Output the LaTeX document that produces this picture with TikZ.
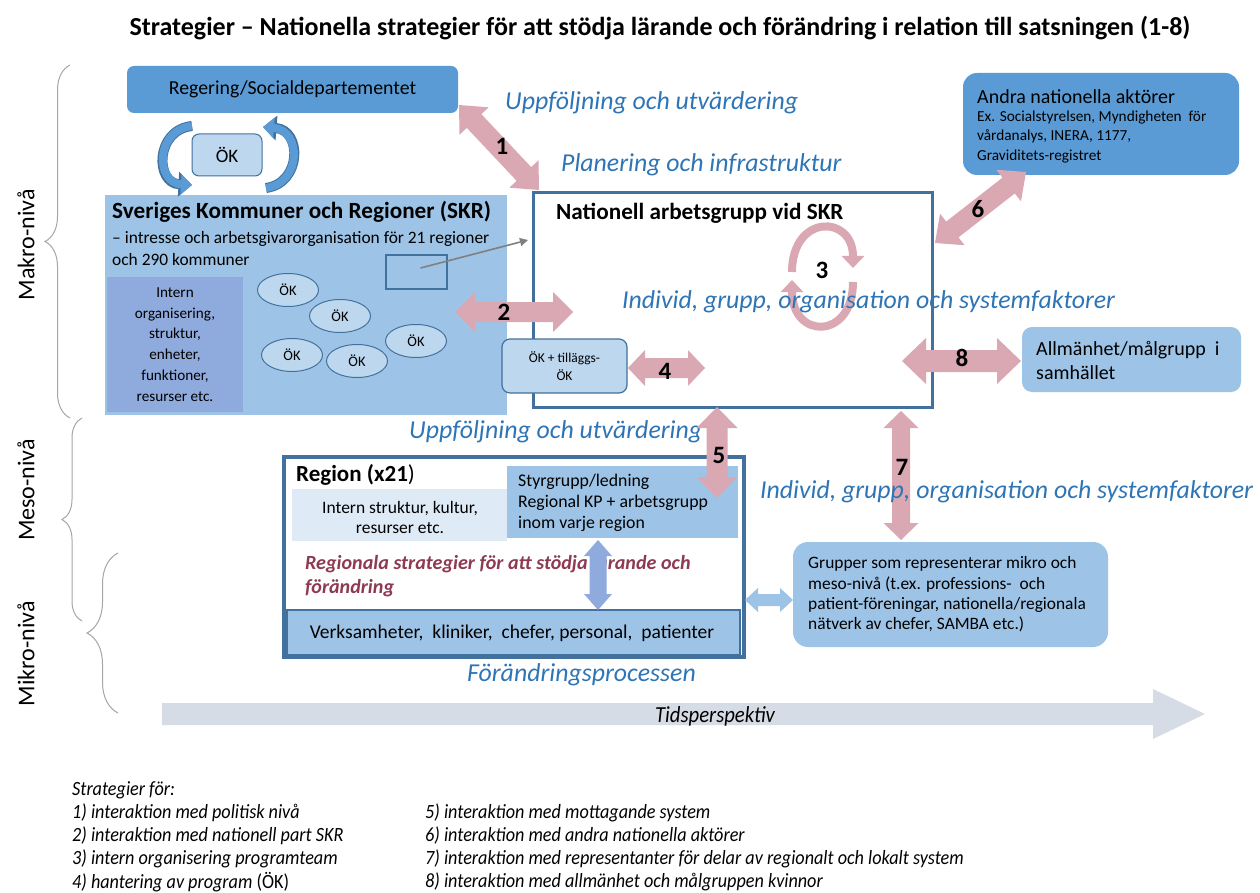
\documentclass[tikz,border=0pt]{standalone}
\usepackage{fontspec}
\setmainfont{Carlito}
\newfontfamily\condfont[FakeStretch=0.9]{Carlito}
\usetikzlibrary{calc,arrows.meta,decorations.pathreplacing,shapes.geometric}
\definecolor{midblue}{HTML}{5B9BD5}
\definecolor{skrblue}{HTML}{9DC3E6}
\definecolor{innerblue}{HTML}{8FAADC}
\definecolor{paleblue}{HTML}{BDD7EE}
\definecolor{edgeblue}{HTML}{41719C}
\definecolor{pinkarr}{RGB}{217,168,179}
\definecolor{labblue}{HTML}{2E75B6}
\definecolor{verylight}{HTML}{DEEBF7}
\definecolor{regred}{RGB}{142,58,82}
\definecolor{timegray}{HTML}{D6DCE5}
\definecolor{bracegray}{HTML}{A6A6A6}
\newcommand\fs[2]{\fontsize{#1}{#2}\selectfont}
\newcommand{\fatarrow}[6]{%
 \path ($(#1)!#5!(#2)$) coordinate (faA) ($(#2)!#5!(#1)$) coordinate (faB);
 \fill[#6] (#1) -- ($(faA)!#4!90:(#2)$) -- ($(faA)!#3!90:(#2)$) -- ($(faB)!#3!-90:(#1)$) -- ($(faB)!#4!-90:(#1)$) -- (#2) -- ($(faB)!#4!90:(#1)$) -- ($(faB)!#3!90:(#1)$) -- ($(faA)!#3!-90:(#2)$) -- ($(faA)!#4!-90:(#2)$) -- cycle;}
\tikzset{
  boxn/.style={anchor=north west, inner sep=0pt, outer sep=0pt},
  blabel/.style={font=\itshape\fs{25.8}{30}, text=labblue, anchor=west, inner sep=0pt},
  num/.style={font=\bfseries\fs{25}{28}, inner sep=0pt},
  okell/.style={ellipse, draw=edgeblue, line width=1pt, fill=paleblue, minimum width=61pt, minimum height=33pt, inner sep=0pt, font=\fs{14.5}{16}},
  cycblue/.style={line width=8pt, midblue, -{Triangle[width=20pt,length=11pt]},
     preaction={draw=edgeblue, line width=10pt, -{Triangle[width=24pt,length=13.5pt]}}},
  cycpink/.style={line width=8pt, pinkarr, -{Triangle[width=22pt,length=12pt]}},
  lvl/.style={rotate=90, font=\fs{24}{26}, inner sep=0pt},
  brc/.style={draw=bracegray, line width=1pt, decorate},
  leg/.style={anchor=west, inner sep=0pt, font=\condfont\itshape\fs{20.2}{23}},
}
\begin{document}
\begin{tikzpicture}[x=1pt,y=-1pt]
\useasboundingbox (0,0) rectangle (1260,893);
\fill[white] (0,0) rectangle (1260,893);

% title
\node[font=\bfseries\fs{26}{30}] (title) at (660,28) {Strategier – Nationella strategier för att stödja lärande och förändring i relation till satsningen (1-8)};

% level braces
\draw[brc, decoration={brace, amplitude=25pt}] (70,418) -- (70,65);
\draw[brc, decoration={brace, amplitude=20pt}] (82,621) -- (82,418);
\draw[brc, decoration={brace, amplitude=31pt}] (118,713) -- (118,553);
\node[lvl] (makro) at (26,245) {Makro-nivå};
\node[lvl] (meso) at (26,490) {Meso-nivå};
\node[lvl] (mikro) at (26,654) {Mikro-nivå};

% Regering
\node[boxn, fill=midblue, rounded corners=7pt, minimum width=331pt, minimum height=47pt] (reg) at (127,66) {};
\node[font=\fs{19.8}{22}] (regt) at (reg.center) {Regering/Socialdepartementet};

% Andra nationella aktörer
\node[boxn, fill=midblue, rounded corners=14pt, minimum width=276pt, minimum height=102pt] (andra) at (963,73) {};
\node[anchor=west, inner sep=0pt, font=\fs{20}{22}] (andrat) at (977,97) {Andra nationella aktörer};
\node[anchor=west, inner sep=0pt, align=left, font=\fs{15.3}{19.5}] (andras) at (977,137) {Ex. Socialstyrelsen, Myndigheten\ \ för\\vårdanalys, INERA, 1177,\\Graviditets-registret};

% SKR
\node[boxn, fill=skrblue, minimum width=402pt, minimum height=220pt] (skr) at (105,195) {};
\node[boxn, fill=innerblue, minimum width=136pt, minimum height=135pt] (skrin) at (107,277) {};
\node[align=center, font=\fs{15.2}{20.8}] (skrint) at (skrin.center) {Intern\\organisering,\\struktur,\\enheter,\\funktioner,\\resurser etc.};
\node[anchor=west, inner sep=0pt, font=\bfseries\fs{23.2}{26}] (skrt) at (112,212) {Sveriges Kommuner och Regioner (SKR)};
\node[anchor=west, inner sep=0pt, font=\fs{17.4}{20}] (skrs1) at (112,239) {– intresse och arbetsgivarorganisation för 21 regioner};
\node[anchor=west, inner sep=0pt, font=\fs{17.4}{20}] (skrs2) at (112,260) {och 290 kommuner};
\node[boxn, draw=edgeblue, line width=1.2pt, minimum width=61pt, minimum height=34pt] (smallr) at (386,255) {};
\node[okell] (e1) at (288,290) {ÖK};
\node[okell] (e2) at (340,316) {ÖK};
\node[okell] (e3) at (416,341) {ÖK};
\node[okell] (e4) at (292,355) {ÖK};
\node[okell] (e5) at (357,361) {ÖK};

% ÖK + cycle
\node[boxn, fill=paleblue, draw=edgeblue, line width=1pt, rounded corners=7pt, minimum width=70pt, minimum height=42pt] (ok) at (192,134) {};
\node[font=\fs{19}{21}] (okt) at (ok.center) {ÖK};
\coordinate (c1a) at (192,126);
\coordinate (c1b) at (192,185);
\coordinate (c2a) at (266,188);
\coordinate (c2b) at (263,127);
\draw[cycblue] (c1a) .. controls (155,130) and (155,183) .. (c1b);
\draw[cycblue] (c2a) .. controls (302,183) and (302,130) .. (c2b);

% central box
\node[boxn, fill=white, minimum width=399pt, minimum height=214pt] (nat) at (533,193) {};
\coordinate (c3a) at (792,272);
\coordinate (c3b) at (853,268);
\coordinate (c3c) at (853,282);
\coordinate (c3d) at (792,280);
\draw[cycpink] (c3a) .. controls (792,214) and (853,214) .. (c3b);
\draw[cycpink] (c3c) .. controls (853,340) and (792,340) .. (c3d);
\node[anchor=west, inner sep=0pt, font=\bfseries\fs{23.2}{26}] (natt) at (556,213) {Nationell arbetsgrupp vid SKR};
\node[blabel] (ind1) at (622,302) {Individ, grupp, organisation och systemfaktorer};
\draw[edgeblue, line width=3pt] (nat.north west) rectangle (nat.south east);

% blue labels
\node[blabel] (upp1) at (505,103) {Uppföljning och utvärdering};
\node[blabel] (plan) at (561,165) {Planering och infrastruktur};
\node[blabel] (upp2) at (409,432) {Uppföljning och utvärdering};
\node[blabel] (forp) at (467,675) {Förändringsprocessen};

% Allmänhet
\node[boxn, fill=skrblue, rounded corners=10pt, minimum width=219pt, minimum height=65pt] (allm) at (1022,327) {};
\node[anchor=west, inner sep=0pt, align=left, font=\fs{20}{24}] (allmt) at (1036,360) {Allmänhet/målgrupp\ \ i\\samhället};

% Region
\node[boxn, fill=white, minimum width=460pt, minimum height=200pt] (reg21) at (284,457) {};
\node[boxn, fill=verylight, minimum width=215pt, minimum height=52pt] (intst) at (292,489) {};
\node[align=center, font=\fs{17.5}{20}] (intstt) at (400,517) {Intern struktur, kultur,\\resurser etc.};
\node[boxn, fill=skrblue, minimum width=231pt, minimum height=72pt] (styr) at (507,466) {};
\node[anchor=west, inner sep=0pt, align=left, font=\fs{17.8}{20.7}] (styrt) at (518,503) {Styrgrupp/ledning\\Regional KP + arbetsgrupp\\inom varje region};
\node[anchor=west, inner sep=0pt, font=\fs{23}{26}] (regt21) at (296,475) {\bfseries Region (x21\mdseries)};
\node[anchor=west, inner sep=0pt, align=left, text=regred, font=\bfseries\itshape\fs{20.1}{24}] (regstr) at (305,576) {Regionala\ strategier\ för\ att\ stödja\ lärande\ och\\förändring};
\node[boxn, fill=skrblue, draw=edgeblue, line width=1.2pt, minimum width=453pt, minimum height=45pt] (verk) at (287,610) {};
\node[font=\fs{19.5}{22}] (verkt) at (512,633) {Verksamheter,\ \ kliniker,\ \ chefer,\ personal,\ \ patienter};
\draw[edgeblue, line width=4pt] (reg21.north west) rectangle (reg21.south east);
\coordinate (bra) at (598,540);
\coordinate (brb) at (598,610);
\fatarrow{bra}{brb}{8.5pt}{14pt}{16pt}{innerblue}

% Grupper
\node[boxn, fill=skrblue, rounded corners=15pt, minimum width=315pt, minimum height=105pt] (grp) at (793,542) {};
\node[anchor=west, inner sep=0pt, align=left, font=\fs{17.4}{20.3}] (grpt) at (808,594.5) {Grupper som representerar mikro och\\meso-nivå (t.ex. professions-\ \ och\\patient-föreningar, nationella/regionala\\nätverk av chefer, SAMBA etc.)};
\coordinate (lba) at (745,600);
\coordinate (lbb) at (793,600);
\fatarrow{lba}{lbb}{6pt}{12pt}{13pt}{skrblue}

% pink arrows
\coordinate (a1s) at (459,105);  \coordinate (a1e) at (539,190);
\coordinate (a2s) at (455,312);  \coordinate (a2e) at (573,312);
\coordinate (a4s) at (628,368);  \coordinate (a4e) at (705,368);
\coordinate (a5s) at (717,407);  \coordinate (a5e) at (717,498);
\coordinate (a6s) at (1026,172); \coordinate (a6e) at (935,243);
\coordinate (a7s) at (901,411);  \coordinate (a7e) at (901,540);
\coordinate (a8s) at (902,361);  \coordinate (a8e) at (1021,361);
\fatarrow{a1s}{a1e}{10pt}{20pt}{22pt}{pinkarr}
\fatarrow{a2s}{a2e}{10pt}{20pt}{20pt}{pinkarr}
\fatarrow{a5s}{a5e}{10.5pt}{20.5pt}{21pt}{pinkarr}
\fatarrow{a6s}{a6e}{10pt}{20pt}{22pt}{pinkarr}
\fatarrow{a7s}{a7e}{9pt}{17.5pt}{17pt}{pinkarr}
\fatarrow{a8s}{a8e}{11pt}{23pt}{24pt}{pinkarr}
\node[blabel] (ind2) at (760,492) {Individ, grupp, organisation och systemfaktorer};

% ÖK + tilläggs
\node[boxn, fill=paleblue, draw=edgeblue, line width=1.2pt, rounded corners=8pt, minimum width=125pt, minimum height=54pt] (okt2) at (502,339) {};
\node[align=center, font=\fs{13.5}{18}] (okt2t) at (okt2.center) {ÖK + tilläggs-\\ÖK};
\fatarrow{a4s}{a4e}{10pt}{18pt}{17pt}{pinkarr}

% numbers
\node[num] (n1) at (502,146) {1};
\node[num] (n2) at (504,312) {2};
\node[num] (n3) at (822,270) {3};
\node[num] (n4) at (665,371) {4};
\node[num] (n5) at (719,455) {5};
\node[num] (n6) at (978,209) {6};
\node[num] (n7) at (902,467) {7};
\node[num] (n8) at (962,358) {8};

% grey arrow
\draw[gray, line width=1.6pt, -{Triangle[width=8pt,length=8pt]}] ($(smallr.center)+(4,-4)$) coordinate (ga) -- (528,240) coordinate (gb);

% time arrow
\coordinate (ts) at (162,714);
\coordinate (te) at (1205,714);
\fill[timegray] ($(ts)+(0,-11)$) -- ($(te)+(-52,-11)$) -- ($(te)+(-52,-25)$) -- (te) -- ($(te)+(-52,25)$) -- ($(te)+(-52,11)$) -- ($(ts)+(0,11)$) -- cycle;
\node[font=\condfont\itshape\fs{23}{26}] (tid) at (715,716) {Tidsperspektiv};

% legend
\node[leg] (l0) at (72,790) {Strategier för:};
\node[leg] (l1) at (72,813) {1) interaktion med politisk nivå};
\node[leg] (l2) at (72,836) {2) interaktion med nationell part SKR};
\node[leg] (l3) at (72,859) {3) intern organisering programteam};
\node[leg] (l4) at (72,882) {4) hantering av program {\upshape(ÖK)}};
\node[leg] (l5) at (425,813) {5) interaktion med mottagande system};
\node[leg] (l6) at (425,836) {6) interaktion med andra nationella aktörer};
\node[leg] (l7) at (425,859) {7) interaktion med representanter för delar av regionalt och lokalt system};
\node[leg] (l8) at (425,882) {8) interaktion med allmänhet och målgruppen kvinnor};
\end{tikzpicture}
\end{document}
